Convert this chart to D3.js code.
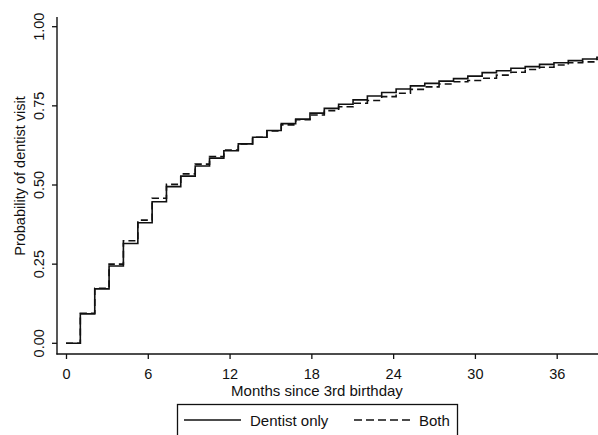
<!DOCTYPE html>
<html lang="en">
  <head>
    <meta charset="utf-8">
    <title>Dentist visit</title>
    <style>
      body { margin: 0; background: #fff; }
      text { font-family: "Liberation Sans", Arial, sans-serif; fill: #111; }
    </style>
    <script src="https://d3js.org/d3.v7.min.js"></script>
  </head>
  <body>

    <div id="viz"></div>

    <script>

    // step times (months since 3rd birthday)
    var stepMonths = [0, 1.05, 2.11, 3.16, 4.21, 5.27, 6.32, 7.37, 8.42, 9.48, 10.53,
      11.58, 12.64, 13.69, 14.74, 15.79, 16.85, 17.9, 18.95, 20.0, 21.06, 22.11,
      23.16, 24.22, 25.27, 26.32, 27.37, 28.43, 29.48, 30.53, 31.58, 32.64, 33.69,
      34.74, 35.8, 36.85, 37.9, 38.95];

    var dentistOnly = [0, 0.093, 0.172, 0.244, 0.315, 0.381, 0.447, 0.495, 0.528, 0.560, 0.585,
      0.608, 0.630, 0.651, 0.672, 0.694, 0.708, 0.727, 0.742, 0.755, 0.769, 0.781,
      0.792, 0.803, 0.813, 0.821, 0.828, 0.836, 0.844, 0.855, 0.861, 0.869, 0.874,
      0.881, 0.886, 0.893, 0.898, 0.903];

    var both = [0, 0.095, 0.174, 0.250, 0.324, 0.389, 0.458, 0.502, 0.535, 0.566, 0.590,
      0.610, 0.630, 0.651, 0.671, 0.690, 0.706, 0.721, 0.735, 0.747, 0.758, 0.767,
      0.779, 0.790, 0.802, 0.810, 0.819, 0.826, 0.830, 0.837, 0.847, 0.856, 0.865,
      0.872, 0.879, 0.886, 0.889, 0.897];

    var xTicks = [0, 6, 12, 18, 24, 30, 36];
    var yTicks = [0, 0.25, 0.5, 0.75, 1];
    var legendLabels = ['Dentist only', 'Both'];

    var width = 598, height = 435;

    var svg = d3.select('#viz')
        .append('svg')
        .attr('width', width)
        .attr('height', height);

    var x = d3.scaleLinear().domain([0, 36]).range([66, 556.7]);
    var y = d3.scaleLinear().domain([0, 1]).range([343.3, 26.7]);

    var axisX = 57, axisY = 354;

    // y axis
    var yAxis = d3.axisLeft(y)
        .tickValues(yTicks)
        .tickSize(5)
        .tickFormat(d3.format('.2f'));
    var gy = svg.append('g')
        .attr('transform', 'translate(' + axisX + ',0)')
        .call(yAxis);
    gy.select('.domain').remove();
    gy.selectAll('line').attr('stroke', '#111').attr('stroke-width', 1.3);
    gy.selectAll('text')
        .attr('x', null).attr('dy', null)
        .attr('text-anchor', 'middle')
        .attr('transform', function(d) { return 'translate(-13,' + y(d) + ') rotate(-90)'; })
        .attr('y', 0)
        .style('font-size', '14.5px');
    gy.selectAll('.tick').attr('transform', null);
    gy.selectAll('.tick line')
        .attr('y1', function(d) { return y(d); })
        .attr('y2', function(d) { return y(d); });
    svg.append('line')
        .attr('x1', axisX).attr('x2', axisX)
        .attr('y1', 17).attr('y2', axisY + 0.6)
        .attr('stroke', '#111').attr('stroke-width', 1.4);

    // x axis
    var xAxis = d3.axisBottom(x)
        .tickValues(xTicks)
        .tickSize(5)
        .tickPadding(8);
    var gx = svg.append('g')
        .attr('transform', 'translate(0,' + axisY + ')')
        .call(xAxis);
    gx.select('.domain').remove();
    gx.selectAll('line').attr('stroke', '#111').attr('stroke-width', 1.3);
    gx.selectAll('text')
        .attr('dy', null)
        .attr('y', 25)
        .style('font-size', '14.5px');
    svg.append('line')
        .attr('x1', axisX - 0.6).attr('x2', width)
        .attr('y1', axisY).attr('y2', axisY)
        .attr('stroke', '#111').attr('stroke-width', 1.4);

    // axis titles
    svg.append('text')
        .attr('transform', 'translate(25,176) rotate(-90)')
        .attr('text-anchor', 'middle')
        .style('font-size', '14.5px')
        .text('Probability of dentist visit');

    svg.append('text')
        .attr('x', 317)
        .attr('y', 396)
        .attr('text-anchor', 'middle')
        .style('font-size', '15px')
        .text('Months since 3rd birthday');

    // survival style step curves
    function toPoints(vals) {
      var pts = vals.map(function(v, i) { return [stepMonths[i], v]; });
      pts.push([39.1, vals[vals.length - 1]]);
      return pts;
    }

    var line = d3.line()
        .x(function(d) { return x(d[0]); })
        .y(function(d) { return y(d[1]); })
        .curve(d3.curveStepAfter);

    svg.append('path')
        .datum(toPoints(both))
        .attr('d', line)
        .attr('fill', 'none')
        .attr('stroke', '#111')
        .attr('stroke-width', 1.6)
        .attr('stroke-dasharray', '7,4');

    svg.append('path')
        .datum(toPoints(dentistOnly))
        .attr('d', line)
        .attr('fill', 'none')
        .attr('stroke', '#111')
        .attr('stroke-width', 1.6);

    // legend (bottom cut off like the original)
    var lg = svg.append('g');
    lg.append('rect')
        .attr('x', 177.5).attr('y', 404.5)
        .attr('width', 280).attr('height', 40)
        .attr('fill', 'none')
        .attr('stroke', '#111')
        .attr('stroke-width', 1.3);
    lg.append('line')
        .attr('x1', 184).attr('x2', 241)
        .attr('y1', 420).attr('y2', 420)
        .attr('stroke', '#111').attr('stroke-width', 1.6);
    lg.append('text')
        .attr('x', 250).attr('y', 426)
        .style('font-size', '15px')
        .text(legendLabels[0]);
    lg.append('line')
        .attr('x1', 354).attr('x2', 411)
        .attr('y1', 420).attr('y2', 420)
        .attr('stroke', '#111').attr('stroke-width', 1.6)
        .attr('stroke-dasharray', '8,4');
    lg.append('text')
        .attr('x', 419).attr('y', 426)
        .style('font-size', '15px')
        .text(legendLabels[1]);

    </script>
  </body>
</html>
